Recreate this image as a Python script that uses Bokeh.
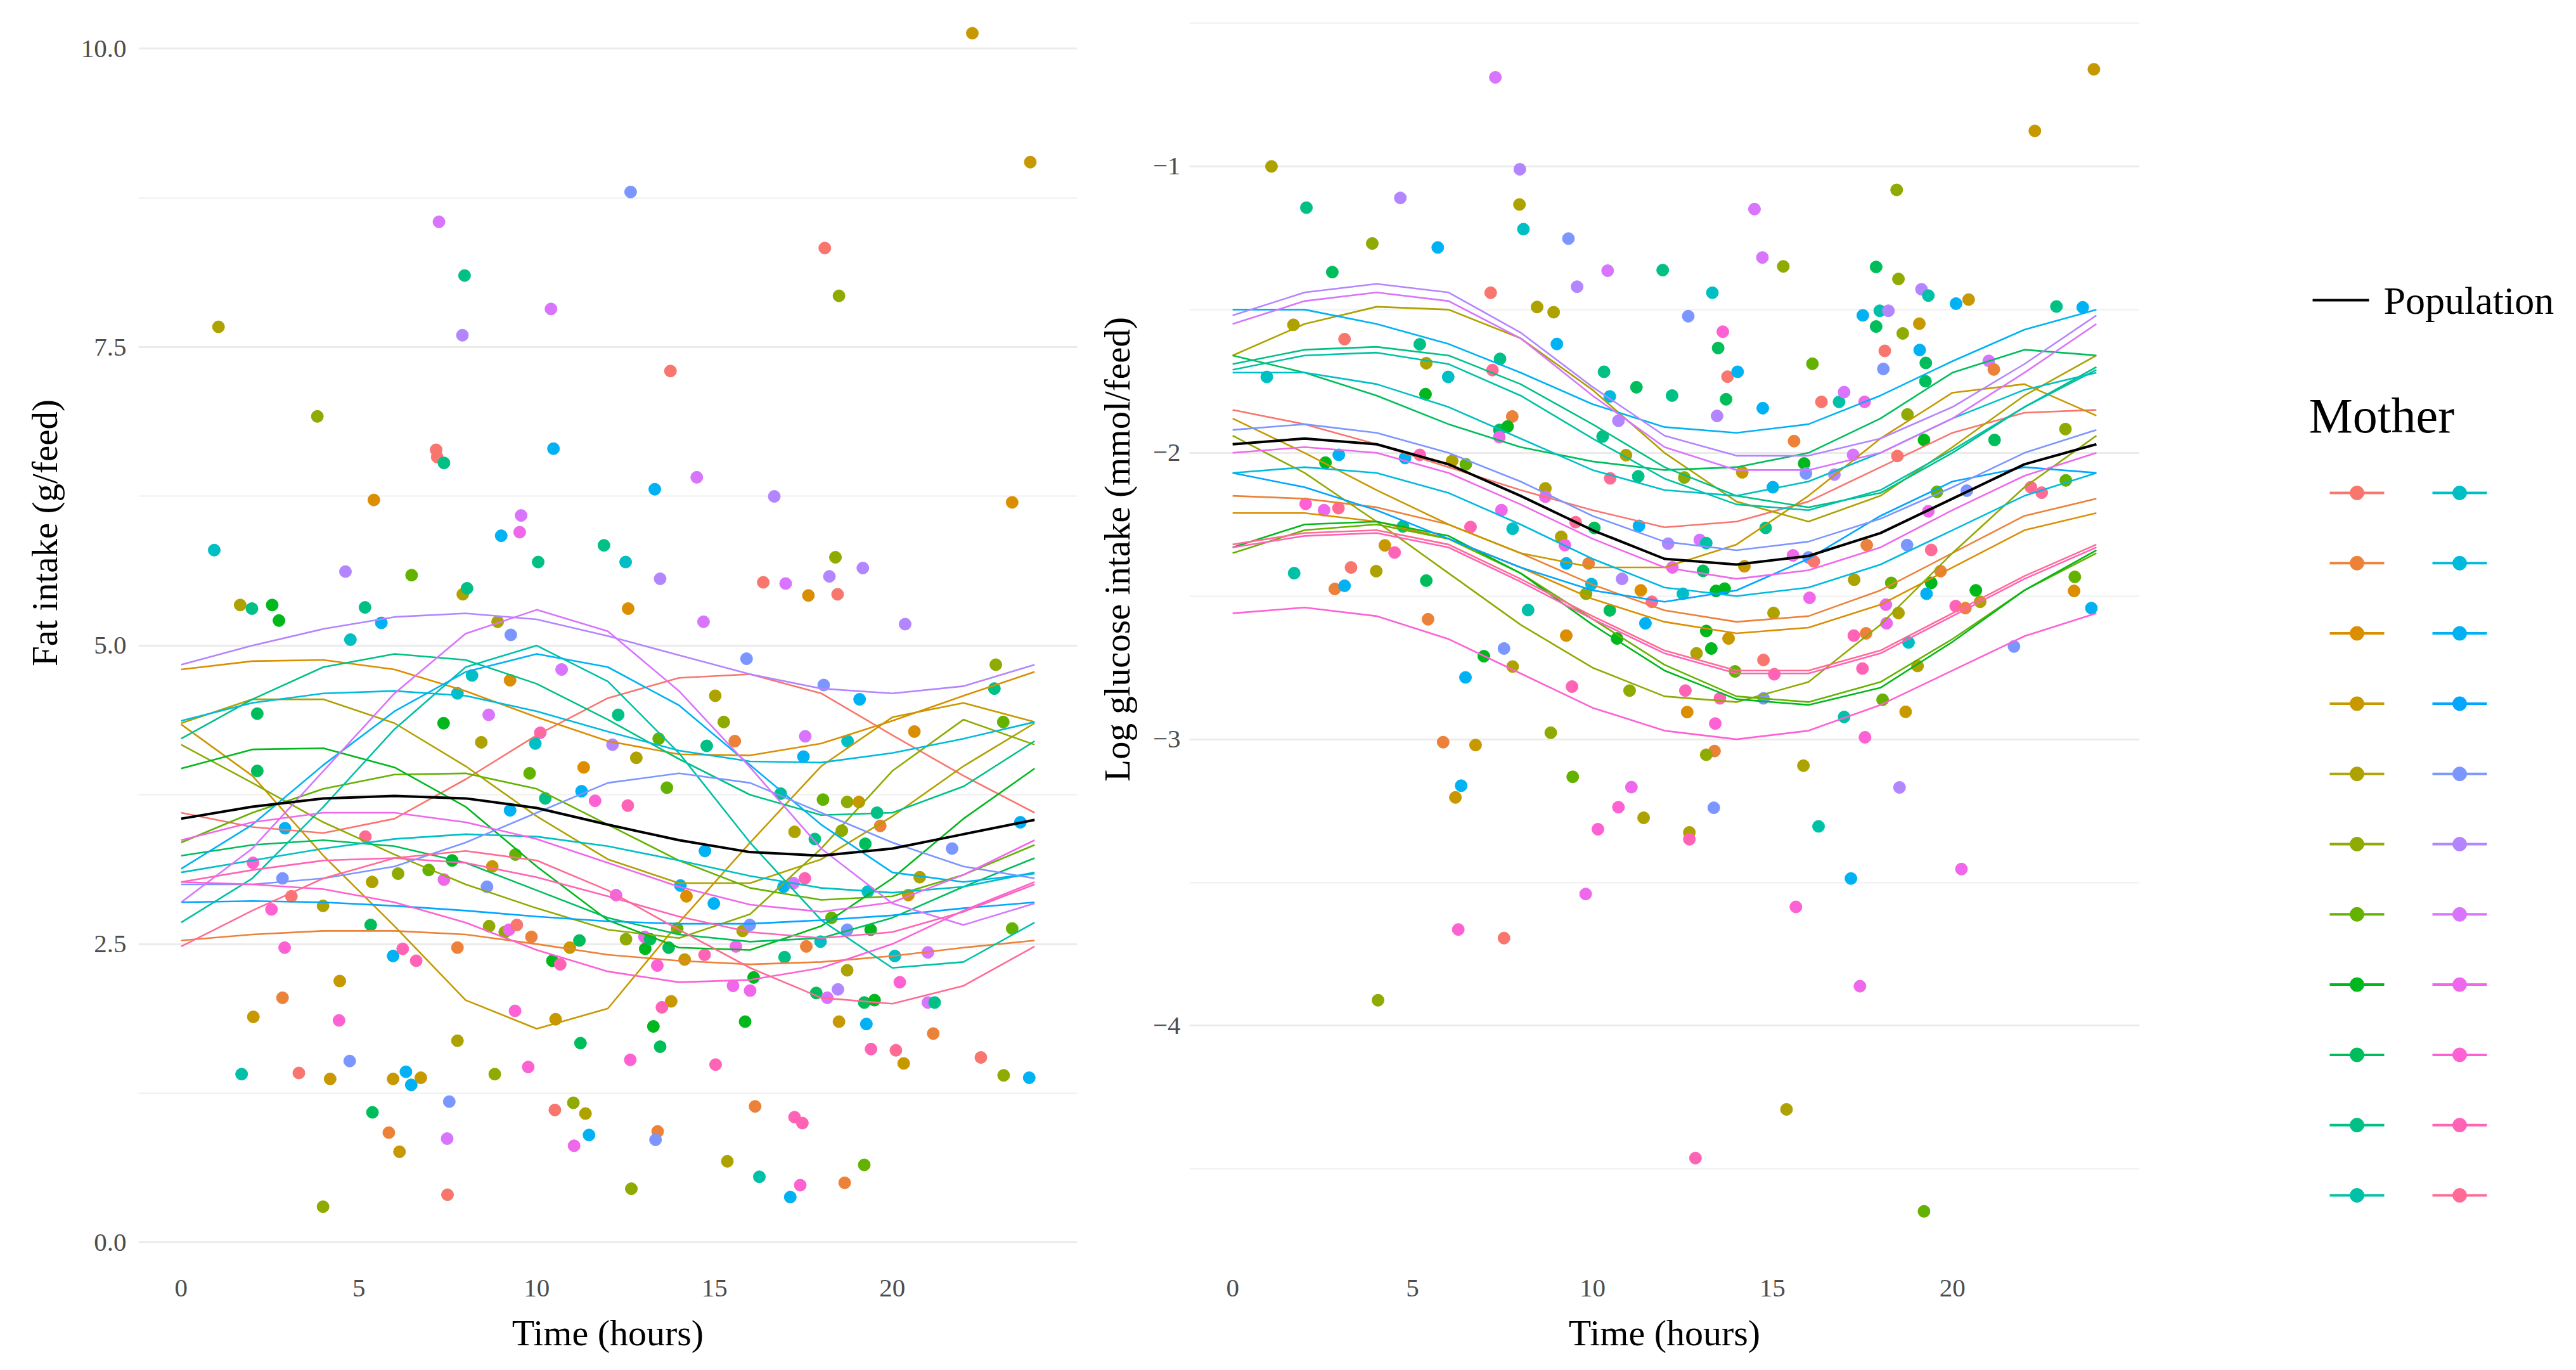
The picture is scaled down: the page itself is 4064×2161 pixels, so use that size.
import math
from bokeh.plotting import figure
from bokeh.layouts import row
from bokeh.models import Range1d, FixedTicker, PrintfTickFormatter, ColumnDataSource
from bokeh.core.properties import value
from bokeh.embed import file_html
from bokeh.resources import INLINE

FONT = "Liberation Serif"

# fitted curves sampled every two hours (one row per mother, 22 mothers)
hours = [0, 2, 4, 6, 8, 10, 12, 14, 16, 18, 20, 22, 24]

fat_fit = [
    [3.6, 3.48, 3.43, 3.55, 3.88, 4.25, 4.56, 4.73, 4.76, 4.6, 4.25, 3.91, 3.6],
    [2.53, 2.58, 2.61, 2.61, 2.58, 2.5, 2.41, 2.36, 2.33, 2.35, 2.4, 2.47, 2.53],
    [4.80, 4.87, 4.88, 4.80, 4.62, 4.40, 4.20, 4.09, 4.08, 4.18, 4.37, 4.58, 4.78],
    [4.34, 3.91, 3.24, 2.65, 2.03, 1.79, 1.96, 2.68, 3.35, 3.99, 4.4, 4.52, 4.36],
    [4.35, 4.55, 4.55, 4.35, 3.99, 3.57, 3.21, 3.01, 3.01, 3.21, 3.57, 3.99, 4.35],
    [4.17, 3.85, 3.52, 3.25, 3.0, 2.8, 2.62, 2.55, 2.75, 3.3, 3.95, 4.38, 4.17],
    [3.35, 3.6, 3.8, 3.92, 3.93, 3.8, 3.5, 3.2, 2.97, 2.87, 2.9, 3.08, 3.33],
    [3.97, 4.13, 4.14, 3.98, 3.65, 3.15, 2.7, 2.47, 2.45, 2.65, 3.05, 3.55, 3.97],
    [3.24, 3.33, 3.37, 3.32, 3.18, 2.95, 2.72, 2.58, 2.52, 2.55, 2.72, 2.98, 3.22],
    [4.22, 4.55, 4.82, 4.93, 4.88, 4.68, 4.38, 4.05, 3.75, 3.58, 3.6, 3.82, 4.2],
    [2.68, 3.05, 3.65, 4.3, 4.82, 5.0, 4.7, 4.1, 3.35, 2.7, 2.3, 2.35, 2.68],
    [3.1, 3.2, 3.3, 3.38, 3.42, 3.4, 3.32, 3.2, 3.07, 2.97, 2.93, 2.98, 3.1],
    [4.37, 4.52, 4.6, 4.62, 4.58, 4.45, 4.28, 4.12, 4.03, 4.02, 4.1, 4.22, 4.36],
    [3.13, 3.5, 4.0, 4.45, 4.78, 4.93, 4.82, 4.5, 4.0, 3.5, 3.1, 3.02, 3.09],
    [2.85, 2.86, 2.85, 2.82, 2.78, 2.73, 2.69, 2.67, 2.67, 2.7, 2.74, 2.8, 2.85],
    [3.0, 3.0, 3.05, 3.15, 3.35, 3.6, 3.85, 3.93, 3.85, 3.6, 3.35, 3.15, 3.05],
    [4.84, 5.0, 5.14, 5.24, 5.27, 5.22, 5.08, 4.92, 4.76, 4.64, 4.6, 4.66, 4.84],
    [2.85, 3.3, 3.95, 4.6, 5.1, 5.3, 5.12, 4.62, 3.98, 3.3, 2.84, 2.66, 2.84],
    [3.37, 3.52, 3.6, 3.6, 3.52, 3.38, 3.18, 2.98, 2.83, 2.77, 2.85, 3.08, 3.37],
    [3.02, 3.0, 2.96, 2.85, 2.68, 2.45, 2.27, 2.18, 2.2, 2.3, 2.5, 2.78, 3.02],
    [3.02, 3.12, 3.2, 3.22, 3.18, 3.06, 2.9, 2.73, 2.6, 2.55, 2.6, 2.77, 3.0],
    [2.48, 2.78, 3.05, 3.22, 3.28, 3.2, 2.95, 2.62, 2.3, 2.05, 2.0, 2.15, 2.48],
]
fat_pop = [3.55, 3.65, 3.72, 3.74, 3.72, 3.64, 3.5, 3.37, 3.27, 3.24, 3.3, 3.42, 3.54]

glu_fit = [
    [-1.85, -1.9, -1.97, -2.05, -2.13, -2.2, -2.26, -2.24, -2.17, -2.05, -1.93, -1.86, -1.85],
    [-2.15, -2.16, -2.19, -2.25, -2.35, -2.46, -2.55, -2.59, -2.57, -2.48, -2.35, -2.22, -2.16],
    [-2.21, -2.21, -2.24, -2.3, -2.4, -2.51, -2.59, -2.63, -2.61, -2.53, -2.4, -2.27, -2.21],
    [-1.88, -2.0, -2.13, -2.25, -2.35, -2.4, -2.4, -2.32, -2.15, -1.95, -1.79, -1.76, -1.87],
    [-1.66, -1.55, -1.49, -1.5, -1.6, -1.78, -2.0, -2.17, -2.24, -2.15, -1.98, -1.8, -1.66],
    [-1.94, -2.07, -2.24, -2.42, -2.6, -2.75, -2.85, -2.87, -2.8, -2.6, -2.35, -2.12, -1.94],
    [-2.35, -2.27, -2.25, -2.3, -2.42, -2.58, -2.74, -2.85, -2.87, -2.8, -2.65, -2.48, -2.35],
    [-2.33, -2.25, -2.24, -2.29, -2.42, -2.6, -2.76, -2.86, -2.88, -2.82, -2.66, -2.48, -2.34],
    [-1.66, -1.72, -1.8, -1.9, -1.98, -2.03, -2.06, -2.05, -2.0, -1.88, -1.72, -1.64, -1.66],
    [-1.69, -1.64, -1.63, -1.66, -1.76, -1.9, -2.05, -2.15, -2.19, -2.14, -2.0, -1.84, -1.7],
    [-1.71, -1.66, -1.65, -1.69, -1.8, -1.95, -2.09, -2.18, -2.2, -2.13, -1.99, -1.84, -1.71],
    [-1.72, -1.72, -1.76, -1.84, -1.95, -2.06, -2.13, -2.15, -2.1, -2.0, -1.88, -1.78, -1.72],
    [-2.07, -2.05, -2.07, -2.14, -2.25, -2.37, -2.47, -2.5, -2.47, -2.39, -2.27, -2.15, -2.07],
    [-1.5, -1.5, -1.55, -1.62, -1.72, -1.83, -1.91, -1.93, -1.9, -1.8, -1.68, -1.57, -1.5],
    [-2.07, -2.12, -2.2, -2.3, -2.4, -2.48, -2.52, -2.48, -2.37, -2.22, -2.1, -2.05, -2.07],
    [-1.92, -1.9, -1.93, -2.0, -2.1, -2.22, -2.31, -2.34, -2.31, -2.23, -2.12, -2.0, -1.92],
    [-1.52, -1.44, -1.41, -1.44, -1.58, -1.77, -1.94, -2.01, -2.01, -1.95, -1.84, -1.69, -1.52],
    [-1.55, -1.47, -1.44, -1.47, -1.6, -1.8, -1.98, -2.06, -2.06, -2.0, -1.88, -1.72, -1.55],
    [-2.0, -1.98, -2.0, -2.07, -2.18, -2.3, -2.4, -2.44, -2.41, -2.33, -2.2, -2.08, -2.0],
    [-2.56, -2.54, -2.57, -2.65, -2.77, -2.89, -2.97, -3.0, -2.97, -2.88, -2.76, -2.64, -2.56],
    [-2.33, -2.29, -2.28, -2.33, -2.45, -2.58, -2.7, -2.77, -2.77, -2.7, -2.57, -2.44, -2.33],
    [-2.32, -2.28, -2.27, -2.32, -2.44, -2.57, -2.69, -2.76, -2.76, -2.69, -2.56, -2.43, -2.32],
]
glu_pop = [-1.97, -1.95, -1.97, -2.04, -2.15, -2.27, -2.37, -2.39, -2.36, -2.28, -2.16, -2.04, -1.97]

# observed feeds: (time in hours, value, mother number 1-22)
fat_points = [
    (22.25, 10.13, 4), (23.88, 9.05, 4), (12.64, 8.80, 16), (7.25, 8.55, 18), (18.1, 8.33, 1),
    (7.97, 8.10, 10), (18.5, 7.93, 6), (1.05, 7.67, 5), (10.4, 7.82, 18), (7.91, 7.60, 17),
    (13.76, 7.30, 1), (3.83, 6.92, 6), (7.17, 6.64, 1), (7.2, 6.58, 1), (7.39, 6.53, 10),
    (10.47, 6.65, 14), (5.42, 6.22, 3), (23.37, 6.20, 3), (14.5, 6.41, 18), (13.32, 6.31, 14),
    (16.68, 6.25, 17), (9.56, 6.09, 18), (9.52, 5.95, 19), (9.0, 5.92, 14), (0.93, 5.80, 12),
    (11.89, 5.84, 10), (12.5, 5.70, 12), (10.04, 5.70, 10), (18.4, 5.74, 6),
    (4.62, 5.62, 17), (6.48, 5.59, 7), (1.66, 5.34, 5), (1.99, 5.31, 10), (2.56, 5.34, 8),
    (2.75, 5.21, 8), (5.17, 5.32, 10), (5.63, 5.19, 14), (4.76, 5.05, 12), (7.92, 5.43, 5),
    (8.04, 5.48, 10), (8.90, 5.20, 5), (9.27, 5.09, 16), (12.57, 5.31, 3), (10.7, 4.80, 18),
    (8.18, 4.75, 12), (7.77, 4.60, 12), (9.25, 4.71, 3), (2.14, 4.43, 9), (7.38, 4.35, 8),
    (8.65, 4.42, 18), (8.44, 4.19, 5), (10.1, 4.27, 21), (9.96, 4.18, 12), (12.29, 4.42, 10),
    (12.13, 4.17, 17), (12.8, 4.06, 5), (2.14, 3.95, 9), (9.80, 3.93, 7), (11.32, 3.98, 3),
    (11.26, 3.78, 14), (11.64, 3.70, 20), (12.56, 3.66, 21), (10.24, 3.72, 10), (9.25, 3.62, 14),
    (2.92, 3.47, 14), (5.18, 3.40, 22), (2.02, 3.18, 20), (2.85, 3.05, 16), (3.10, 2.90, 1),
    (2.54, 2.79, 20), (3.99, 2.82, 5), (5.37, 3.02, 5), (6.10, 3.09, 6), (6.96, 3.12, 7),
    (7.62, 3.20, 8), (7.39, 3.04, 19), (8.75, 3.15, 4), (9.40, 3.25, 7), (8.60, 2.98, 16),
    (12.23, 2.91, 19), (5.33, 2.66, 9), (2.91, 2.47, 20), (5.96, 2.40, 14), (6.23, 2.46, 21),
    (6.61, 2.36, 21), (7.77, 2.47, 2), (8.66, 2.65, 6), (9.10, 2.60, 6), (9.22, 2.62, 19),
    (9.44, 2.66, 1), (9.85, 2.56, 2), (10.44, 2.36, 8), (10.66, 2.33, 21), (10.93, 2.47, 4),
    (11.20, 2.53, 9), (12.51, 2.54, 6), (4.46, 2.19, 4), (2.85, 2.05, 2), (2.03, 1.89, 4),
    (4.44, 1.86, 20), (7.77, 1.69, 5), (9.39, 1.94, 20), (10.53, 1.87, 4), (11.23, 1.67, 9),
    (9.76, 1.47, 20), (8.82, 1.41, 6), (12.63, 1.53, 20), (1.70, 1.41, 11), (3.31, 1.42, 1),
    (4.19, 1.37, 4), (4.74, 1.52, 16), (5.96, 1.37, 4), (6.32, 1.43, 14), (6.47, 1.32, 14),
    (6.74, 1.38, 4), (7.54, 1.18, 16), (5.38, 1.09, 9), (5.84, 0.92, 2), (6.14, 0.76, 4),
    (7.48, 0.87, 18), (10.51, 1.11, 1), (11.03, 1.17, 6), (11.37, 1.08, 5), (11.47, 0.90, 14),
    (11.05, 0.81, 19), (7.49, 0.40, 1), (3.99, 0.30, 6), (12.66, 0.45, 6),
    (13.47, 5.56, 17), (16.37, 5.53, 1), (17.00, 5.52, 18), (18.23, 5.58, 17), (19.17, 5.65, 17),
    (17.64, 5.42, 3), (18.46, 5.43, 1), (14.69, 5.20, 18), (20.36, 5.18, 17), (15.9, 4.89, 16),
    (18.07, 4.67, 16), (19.08, 4.55, 14), (15.02, 4.58, 5), (15.26, 4.36, 6), (15.57, 4.20, 2),
    (13.43, 4.22, 7), (13.66, 3.81, 7), (14.78, 4.16, 10), (17.55, 4.24, 18), (17.50, 4.07, 14),
    (18.74, 4.20, 12), (20.62, 4.28, 3), (22.91, 4.84, 6), (22.87, 4.64, 10), (23.12, 4.36, 7),
    (16.86, 3.76, 10), (18.05, 3.71, 7), (18.73, 3.69, 6), (19.06, 3.69, 4), (19.57, 3.60, 10),
    (17.25, 3.44, 5), (17.82, 3.38, 10), (18.58, 3.45, 6), (19.24, 3.34, 9), (19.66, 3.49, 2),
    (14.73, 3.28, 14), (21.68, 3.30, 16), (23.60, 3.52, 14), (14.04, 2.99, 14), (14.21, 2.90, 3),
    (14.98, 2.84, 14), (16.94, 2.98, 14), (17.22, 3.01, 18), (17.54, 3.05, 21), (19.31, 2.94, 12),
    (20.77, 3.06, 5), (20.45, 2.91, 4), (13.03, 2.56, 19), (13.05, 2.46, 8), (13.19, 2.54, 9),
    (13.71, 2.47, 9), (13.95, 2.63, 7), (15.79, 2.61, 5), (15.99, 2.66, 16), (15.6, 2.48, 19),
    (14.72, 2.41, 21), (14.16, 2.37, 4), (13.39, 2.32, 20), (16.1, 2.22, 8), (15.52, 2.15, 19),
    (16.0, 2.11, 19), (16.97, 2.39, 10), (17.58, 2.48, 2), (17.98, 2.52, 12), (18.29, 2.72, 7),
    (18.73, 2.62, 16), (19.39, 2.62, 8), (18.73, 2.28, 5), (20.07, 2.40, 12), (21.0, 2.43, 18),
    (20.21, 2.18, 20), (23.37, 2.63, 7), (17.86, 2.09, 9), (18.17, 2.05, 18), (18.47, 2.12, 17),
    (19.21, 2.01, 9), (19.50, 2.03, 8), (21.0, 2.01, 18), (21.19, 2.01, 10), (13.78, 2.02, 4),
    (13.52, 1.97, 21), (13.28, 1.81, 8), (13.47, 1.64, 9), (15.86, 1.85, 8), (18.5, 1.85, 4),
    (19.27, 1.83, 14), (21.15, 1.75, 2), (15.03, 1.49, 21), (19.4, 1.62, 21), (20.1, 1.61, 22),
    (20.32, 1.50, 4), (22.49, 1.55, 1), (23.13, 1.40, 6), (23.85, 1.38, 14), (16.14, 1.14, 2),
    (13.4, 0.93, 2), (13.34, 0.86, 16), (17.25, 1.05, 21), (17.47, 1.00, 21), (15.36, 0.68, 5),
    (16.26, 0.55, 11), (17.13, 0.38, 14), (17.41, 0.48, 20), (18.66, 0.50, 2), (19.21, 0.65, 7),
]

glu_points = [
    (7.30, -0.689, 18), (1.08, -1.0, 5), (7.98, -1.01, 17), (2.05, -1.144, 10), (4.66, -1.11, 17),
    (7.97, -1.133, 5), (8.08, -1.219, 12), (3.88, -1.269, 6), (5.70, -1.283, 14), (9.33, -1.252, 16),
    (2.77, -1.369, 9), (10.42, -1.364, 18), (9.57, -1.42, 17), (11.95, -1.362, 10), (7.17, -1.441, 1),
    (8.46, -1.491, 5), (8.92, -1.509, 5), (1.69, -1.553, 5), (3.11, -1.603, 1), (5.20, -1.621, 10),
    (9.01, -1.62, 14), (7.43, -1.672, 10), (5.38, -1.687, 5), (5.99, -1.735, 12), (7.22, -1.711, 22),
    (0.95, -1.735, 12), (5.36, -1.795, 8), (10.32, -1.717, 10), (10.48, -1.803, 13), (11.22, -1.771, 9),
    (12.21, -1.80, 10), (10.72, -1.888, 17), (7.77, -1.873, 2), (7.41, -1.92, 9), (7.64, -1.908, 8),
    (7.41, -1.945, 19), (10.28, -1.943, 10), (10.93, -2.008, 5), (10.49, -2.089, 22), (11.27, -2.082, 10),
    (2.95, -2.007, 14), (2.58, -2.034, 8), (4.79, -2.018, 14), (5.20, -2.007, 21), (6.10, -2.028, 5),
    (6.48, -2.04, 7), (8.69, -2.124, 5), (8.69, -2.153, 19), (2.03, -2.178, 20), (2.54, -2.2, 19),
    (2.94, -2.193, 22), (7.47, -2.2, 19), (6.61, -2.259, 21), (7.78, -2.265, 12), (4.73, -2.257, 10),
    (9.53, -2.242, 22), (10.05, -2.262, 9), (11.29, -2.255, 14), (9.13, -2.293, 5), (9.23, -2.322, 19),
    (12.1, -2.317, 17), (4.23, -2.323, 4), (4.50, -2.348, 21), (1.71, -2.42, 11), (3.99, -2.413, 5),
    (3.29, -2.40, 1), (2.84, -2.475, 2), (3.11, -2.464, 14), (5.38, -2.446, 9), (9.27, -2.386, 14),
    (9.89, -2.386, 2), (9.97, -2.458, 13), (9.82, -2.492, 6), (10.82, -2.44, 17), (11.34, -2.48, 3),
    (11.65, -2.52, 22), (8.21, -2.549, 11), (10.48, -2.55, 9), (11.47, -2.595, 14), (5.43, -2.581, 2),
    (9.27, -2.638, 3), (10.68, -2.648, 8), (7.54, -2.683, 16), (6.98, -2.71, 8),
    (6.47, -2.784, 14), (7.78, -2.746, 5), (9.43, -2.816, 21), (11.03, -2.83, 6), (8.84, -2.977, 6),
    (5.85, -3.01, 2), (6.75, -3.02, 4), (9.45, -3.131, 7), (6.35, -3.162, 14), (6.19, -3.203, 4),
    (11.08, -3.167, 19), (10.72, -3.237, 20), (10.15, -3.314, 20), (11.42, -3.274, 5), (9.81, -3.54, 19),
    (6.27, -3.664, 20), (7.54, -3.694, 1), (4.04, -3.911, 6),
    (23.93, -0.661, 4), (22.29, -0.876, 4), (18.45, -1.082, 6), (14.5, -1.149, 18), (14.72, -1.318, 18),
    (15.30, -1.349, 6), (17.88, -1.351, 9), (18.5, -1.393, 6), (19.14, -1.429, 17), (19.33, -1.451, 11),
    (20.10, -1.479, 14), (20.45, -1.465, 4), (13.33, -1.441, 12), (12.66, -1.523, 16), (17.51, -1.52, 14),
    (17.98, -1.504, 11), (18.22, -1.504, 17), (17.88, -1.559, 9), (18.62, -1.583, 6), (19.08, -1.549, 4),
    (22.89, -1.489, 10), (23.62, -1.492, 14), (13.62, -1.577, 20), (13.49, -1.634, 9), (18.12, -1.644, 1),
    (19.09, -1.641, 14), (18.08, -1.707, 16), (19.26, -1.686, 9), (16.11, -1.689, 7), (21.01, -1.679, 18),
    (21.15, -1.709, 2), (13.75, -1.734, 1), (14.03, -1.717, 14), (13.71, -1.813, 9), (13.46, -1.871, 17),
    (14.73, -1.844, 14), (16.36, -1.822, 1), (16.85, -1.822, 11), (16.99, -1.788, 18), (17.56, -1.822, 19),
    (19.25, -1.75, 9), (18.75, -1.866, 6), (23.14, -1.917, 6), (21.17, -1.955, 9), (19.21, -1.955, 8),
    (15.60, -1.959, 2), (12.55, -2.086, 6), (14.16, -2.068, 4), (15.88, -2.037, 8), (15.93, -2.072, 16),
    (16.72, -2.076, 17), (17.24, -2.007, 18), (18.47, -2.011, 1), (15.01, -2.12, 14), (19.57, -2.136, 7),
    (20.40, -2.132, 16), (22.18, -2.12, 22), (22.48, -2.139, 22), (23.15, -2.096, 7), (14.81, -2.262, 10),
    (19.33, -2.204, 19), (12.98, -2.304, 18), (13.16, -2.315, 11), (13.07, -2.412, 9), (12.22, -2.40, 19),
    (14.22, -2.396, 4), (15.57, -2.358, 19), (16.0, -2.365, 16), (16.15, -2.379, 1), (17.62, -2.322, 2),
    (18.74, -2.322, 16), (19.41, -2.339, 22), (19.67, -2.413, 2), (13.43, -2.482, 8), (13.67, -2.474, 8),
    (12.51, -2.492, 12), (17.27, -2.443, 5), (18.30, -2.454, 7), (19.41, -2.454, 8), (19.28, -2.492, 14),
    (20.65, -2.48, 8), (20.77, -2.52, 5), (20.09, -2.535, 21), (20.36, -2.542, 2), (23.40, -2.433, 7),
    (23.38, -2.482, 3), (23.86, -2.542, 14), (16.03, -2.506, 19), (15.03, -2.559, 5), (18.15, -2.53, 19),
    (18.17, -2.595, 19), (18.5, -2.559, 5), (13.16, -2.622, 8), (13.78, -2.648, 4), (13.30, -2.683, 8),
    (12.89, -2.70, 5), (17.26, -2.638, 21), (17.6, -2.63, 2), (18.78, -2.662, 12), (21.71, -2.676, 16),
    (14.75, -2.723, 1), (13.96, -2.763, 7), (15.05, -2.773, 21), (12.58, -2.83, 21), (13.54, -2.857, 21),
    (12.63, -2.905, 3), (13.41, -2.945, 20), (14.75, -2.857, 16), (17.5, -2.753, 21), (19.03, -2.744, 5),
    (18.06, -2.862, 7), (18.7, -2.904, 4), (16.99, -2.922, 11), (17.57, -2.993, 20), (13.39, -3.041, 2),
    (13.16, -3.054, 6), (15.86, -3.092, 5), (18.53, -3.168, 17), (13.37, -3.239, 16), (12.69, -3.325, 5),
    (12.69, -3.349, 21), (16.28, -3.304, 11), (20.25, -3.453, 19), (17.18, -3.486, 14), (15.65, -3.585, 20),
    (17.43, -3.862, 19), (15.39, -4.292, 5), (12.86, -4.462, 21), (19.21, -4.648, 7),
]

x_ticks = [0, 5, 10, 15, 20]
fat_ticks = [0, 2.5, 5, 7.5, 10]
fat_minor = [1.25, 3.75, 6.25, 8.75]
glu_ticks = [-4, -3, -2, -1]
glu_minor = [-4.5, -3.5, -2.5, -1.5, -0.5]

# page layout (bokeh's page has no body margin, so canvas pixels are page pixels)
H = 2153
TOP, BOTTOM = 18, 156   # frame borders shared by all figures (bokeh aligns them in a row)
PAGE_TOP = TOP
PAGE_BOTTOM = H - BOTTOM


def hcl_hex(h, c=100, l=65):
    # same conversion as R's hcl(), which ggplot's default hue palette uses
    hr = math.radians(h)
    U, V = c * math.cos(hr), c * math.sin(hr)
    Y = 100.0 * ((l + 16) / 116) ** 3
    u = U / (13 * l) + 0.1978398
    v = V / (13 * l) + 0.4683363
    X = 9.0 * Y * u / (4 * v)
    Z = -X / 3 - 5 * Y + 3 * Y / v
    rgb = [(3.240479 * X - 1.537150 * Y - 0.498535 * Z) / 100,
           (-0.969256 * X + 1.875992 * Y + 0.041556 * Z) / 100,
           (0.055648 * X - 0.204043 * Y + 1.057311 * Z) / 100]
    out = []
    for ch in rgb:
        ch = 1.055 * ch ** (1 / 2.4) - 0.055 if ch > 0.00304 else 12.92 * ch
        out.append(int(255 * min(max(ch, 0.0), 1.0) + 0.5))
    return "#%02X%02X%02X" % tuple(out)


n_mothers = len(fat_fit)
palette = [hcl_hex(15 + 360.0 * i / n_mothers) for i in range(n_mothers)]


def blank(width, x0):
    # plain canvas whose data units are page pixels (y grows downwards)
    p = figure(width=width, height=H, x_range=Range1d(x0, x0 + width),
               y_range=Range1d(PAGE_BOTTOM, PAGE_TOP),
               output_backend="svg", toolbar_location=None, x_axis_type=None, y_axis_type=None,
               min_border_left=0, min_border_right=0, min_border_top=TOP, min_border_bottom=BOTTOM)
    p.outline_line_color = None
    p.grid.visible = False
    return p


def make_panel(width, y_lo, y_hi, left, right, ticks, minor):
    p = figure(width=width, height=H, x_range=Range1d(-1.2, 25.2), y_range=Range1d(y_lo, y_hi),
               output_backend="svg", toolbar_location=None,
               min_border_left=left, min_border_right=right, min_border_top=TOP, min_border_bottom=BOTTOM)
    p.outline_line_color = None
    p.xgrid.visible = False
    p.yaxis.ticker = FixedTicker(ticks=ticks, minor_ticks=minor)
    p.xaxis.ticker = FixedTicker(ticks=x_ticks)
    p.ygrid.grid_line_color = "#EBEBEB"
    p.ygrid.grid_line_width = 3
    p.ygrid.minor_grid_line_color = "#F0F0F0"
    p.ygrid.minor_grid_line_width = 2
    for ax in (p.xaxis[0], p.yaxis[0]):
        ax.axis_line_color = None
        ax.major_tick_line_color = None
        ax.minor_tick_line_color = None
        ax.major_tick_out = 0
        ax.major_tick_in = 0
        ax.major_label_text_font = FONT
        ax.major_label_text_font_size = "41px"
        ax.major_label_text_color = "#4D4D4D"
        ax.axis_label_text_font = FONT
        ax.axis_label_text_font_size = "58px"
        ax.axis_label_text_font_style = "normal"
        ax.axis_label_text_color = "black"
    p.xaxis.axis_label = "Time (hours)"
    p.xaxis.major_label_standoff = 21
    p.xaxis.axis_label_standoff = 22
    return p


def draw(p, points, fits, pop):
    src = ColumnDataSource(dict(
        t=[pt[0] for pt in points],
        y=[pt[1] for pt in points],
        c=[palette[pt[2] - 1] for pt in points],
    ))
    p.scatter("t", "y", source=src, size=19, color="c")
    for k, ys in enumerate(fits):
        p.line(hours, ys, line_color=palette[k], line_width=2.6)
    p.line(hours, pop, line_color="black", line_width=4)


def y_title(p, x, y, text):
    p.text([x], [y], text=[text], angle=math.pi / 2, text_font=value(FONT),
           text_font_size=value("57px"), text_align="center", text_baseline="middle",
           text_color="black")


# left y title strip
sl = blank(108, 0)
y_title(sl, 70, 840, "Fat intake (g/feed)")

# left panel: fat intake, frame from page x 218 to 1699
pf = make_panel(1612, -0.2, 10.31, 110, 21, fat_ticks, fat_minor)
pf.yaxis.formatter = PrintfTickFormatter(format="%.1f")
pf.yaxis.major_label_standoff = 15
draw(pf, fat_points, fat_fit, fat_pop)

# right y title strip
sr = blank(80, 1720)
y_title(sr, 1762, 866, "Log glucose intake (mmol/feed)")

# right panel: log glucose intake, frame from page x 1876 to 3375
pg = make_panel(1600, -4.84, -0.46, 76, 25, glu_ticks, glu_minor)
pg.yaxis.major_label_overrides = {t: "\u2212%d" % abs(t) for t in glu_ticks}
pg.yaxis.major_label_standoff = 10
draw(pg, glu_points, glu_fit, glu_pop)

# legend
pl = blank(656, 3400)
pl.line([3648, 3737], [473, 473], line_color="black", line_width=4)
pl.text([3760], [473], text=["Population"], text_font=value(FONT), text_font_size=value("62px"),
        text_baseline="middle", text_align="left", text_color="black")
pl.text([3642], [655], text=["Mother"], text_font=value(FONT), text_font_size=value("78px"),
        text_baseline="middle", text_align="left", text_color="black")

key_x, key_y = [], []
for k in range(n_mothers):
    col, r = divmod(k, 11)
    cx = 3718 + col * 162
    cy = 777 + r * 110.8
    key_x.append(cx)
    key_y.append(cy)
    pl.line([cx - 43, cx + 43], [cy, cy], line_color=palette[k], line_width=4)
pl.scatter(key_x, key_y, size=22, color=palette)

layout = row(sl, pf, sr, pg, pl)
open("out.html", "w").write(file_html(layout, INLINE))
